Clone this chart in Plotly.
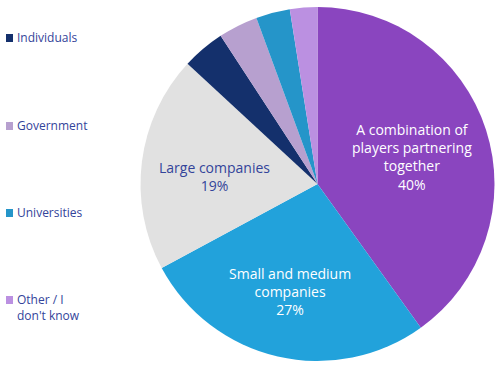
import plotly.graph_objects as go

labels = ["A combination of players partnering together", "Small and medium companies",
          "Large companies", "Individuals", "Government", "Universities", "Other / I don't know"]
values = [40, 27, 19.7, 3.9, 3.6, 3.1, 2.5]
shown_pct = ["40%", "27%", "19%", "4%", "4%", "3%", "3%"]
colors = ["#8A45BF", "#22A2DB", "#E1E1E1", "#14306C", "#B7A0CF", "#2595C9", "#BB90E1"]

legend_items = ["Individuals", "Government", "Universities", "Other / I<br>don't know"]
legend_colors = ["#14306C", "#B7A0CF", "#2595C9", "#BB90E1"]

W, H = 500, 367
FONT = "Open Sans"
TXT = "#33449A"

fig = go.Figure()
fig.add_trace(go.Pie(
    labels=labels, values=values, marker=dict(colors=colors, line=dict(width=0)),
    sort=False, direction="clockwise", rotation=0, textinfo="none",
    hoverinfo="label+percent", showlegend=False,
    domain=dict(x=[140 / W, 495 / W], y=[(H - 361) / H, (H - 7) / H]),
))

# slice labels
label_pos = [(412, 157, "white"), (290, 291, "white"), (214, 176, TXT)]
label_text = ["A combination of<br>players partnering<br>together", "Small and medium<br>companies", "Large companies"]
for (x, y, c), t, p in zip(label_pos, label_text, shown_pct[:3]):
    fig.add_annotation(x=x / W, y=1 - y / H, xref="paper", yref="paper", text=f"{t}<br>{p}",
                       showarrow=False, xanchor="center", yanchor="middle",
                       font=dict(family=FONT, size=14, color=c), align="center")

# legend
leg_y = [38, 126, 213, 300]
for name, col, y in zip(legend_items, legend_colors, leg_y):
    fig.add_shape(type="rect", xref="paper", yref="paper",
                  x0=6 / W, x1=13 / W, y0=1 - (y + 4) / H, y1=1 - (y - 4) / H,
                  fillcolor=col, line=dict(width=0))
    fig.add_annotation(x=15 / W, y=1 - (y - 11) / H, xref="paper", yref="paper", text=name,
                       showarrow=False, xanchor="left", yanchor="top", align="left",
                       font=dict(family=FONT, size=12, color=TXT))

fig.update_layout(width=W, height=H, margin=dict(l=0, r=0, t=0, b=0),
                  paper_bgcolor="white", plot_bgcolor="white")
fig.write_html("out.html", config={"displayModeBar": False},
               post_script="document.body.style.margin='0';")
